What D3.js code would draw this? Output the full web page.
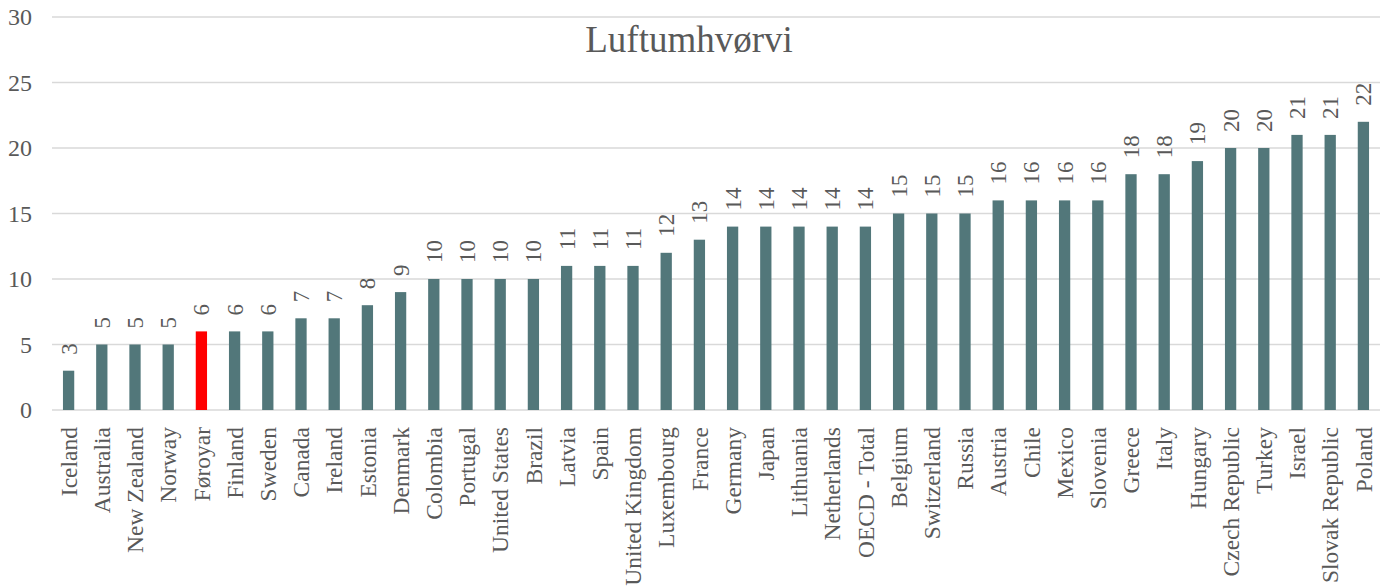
<!DOCTYPE html>
<html>
<head>
<meta charset="utf-8">
<title>Luftumhvørvi</title>
<script src="https://cdn.jsdelivr.net/npm/d3@7"></script>
<style>
  body { margin: 0; background: #fff; }
  text { font-family: "Liberation Serif", "Times New Roman", serif; fill: #595959; }
</style>
</head>
<body>
<div id="chart"></div>
<script>
// data
var countries = ["Iceland", "Australia", "New Zealand", "Norway", "Føroyar", "Finland", "Sweden",
  "Canada", "Ireland", "Estonia", "Denmark", "Colombia", "Portugal", "United States", "Brazil",
  "Latvia", "Spain", "United Kingdom", "Luxembourg", "France", "Germany", "Japan", "Lithuania",
  "Netherlands", "OECD - Total", "Belgium", "Switzerland", "Russia", "Austria", "Chile", "Mexico",
  "Slovenia", "Greece", "Italy", "Hungary", "Czech Republic", "Turkey", "Israel",
  "Slovak Republic", "Poland"];
var values = [3, 5, 5, 5, 6, 6, 6, 7, 7, 8, 9, 10, 10, 10, 10, 11, 11, 11, 12, 13, 14, 14, 14,
  14, 14, 15, 15, 15, 16, 16, 16, 16, 18, 18, 19, 20, 20, 21, 21, 22];
var yTicks = [0, 5, 10, 15, 20, 25, 30];
var highlight = "Føroyar";

var width = 1390, height = 586;
var plotLeft = 52, plotRight = 1380, plotTop = 17, plotBottom = 410;

var svg = d3.select("#chart").append("svg")
  .attr("width", width)
  .attr("height", height);

var x = d3.scaleBand()
  .domain(countries)
  .range([plotLeft, plotRight])
  .paddingInner(0.66)
  .paddingOuter(0.33);

var y = d3.scaleLinear()
  .domain([0, 30])
  .range([plotBottom, plotTop]);

// gridlines
svg.append("g")
  .selectAll("line")
  .data(yTicks)
  .enter().append("line")
  .attr("x1", plotLeft)
  .attr("x2", plotRight)
  .attr("y1", function(d) { return y(d); })
  .attr("y2", function(d) { return y(d); })
  .attr("stroke", "#d9d9d9")
  .attr("stroke-width", 1.5);

// y labels
svg.append("g")
  .selectAll("text")
  .data(yTicks)
  .enter().append("text")
  .attr("x", 32)
  .attr("y", function(d) { return y(d); })
  .attr("dy", "0.35em")
  .attr("text-anchor", "end")
  .style("font-size", "24px")
  .text(function(d) { return d; });

// bars
svg.append("g")
  .selectAll("rect")
  .data(countries)
  .enter().append("rect")
  .attr("x", function(d) { return x(d); })
  .attr("width", x.bandwidth())
  .attr("y", function(d, i) { return y(values[i]); })
  .attr("height", function(d, i) { return y(0) - y(values[i]); })
  .attr("fill", function(d) { return d === highlight ? "#ff0000" : "#52777a"; });

// value labels
svg.append("g")
  .selectAll("text")
  .data(countries)
  .enter().append("text")
  .attr("transform", function(d, i) {
    return "translate(" + (x(d) + x.bandwidth() / 2) + "," + (y(values[i]) - 16) + ") rotate(-90)";
  })
  .attr("dy", "0.35em")
  .attr("text-anchor", "start")
  .style("font-size", "23px")
  .text(function(d, i) { return values[i]; });

// category labels
svg.append("g")
  .selectAll("text")
  .data(countries)
  .enter().append("text")
  .attr("transform", function(d) {
    return "translate(" + (x(d) + x.bandwidth() / 2) + "," + (plotBottom + 17) + ") rotate(-90)";
  })
  .attr("dy", "0.35em")
  .attr("text-anchor", "end")
  .style("font-size", "23.5px")
  .text(function(d) { return d; });

// title
svg.append("text")
  .attr("x", 689)
  .attr("y", 52)
  .attr("text-anchor", "middle")
  .style("font-size", "37px")
  .text("Luftumhvørvi");
</script>
</body>
</html>
